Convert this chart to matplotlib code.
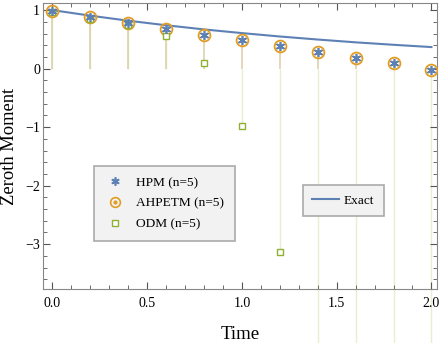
import matplotlib
matplotlib.use("Agg")
import matplotlib.pyplot as plt
from matplotlib.ticker import MultipleLocator, FuncFormatter
from matplotlib.lines import Line2D

plt.rcParams['font.family'] = ['Liberation Serif', 'DejaVu Serif']

# data
t_points = [0.0, 0.2, 0.4, 0.6, 0.8, 1.0, 1.2, 1.4, 1.6, 1.8, 2.0]
hpm = [0.99, 0.89, 0.78, 0.68, 0.58, 0.49, 0.38, 0.28, 0.18, 0.09, -0.03]
ahpetm = [0.99, 0.89, 0.78, 0.68, 0.58, 0.49, 0.38, 0.28, 0.18, 0.09, -0.03]
odm = [0.97, 0.85, 0.75, 0.55, 0.09, -0.98, -3.14, -6.5, -12.0, -20.0, -31.0]

t_exact = [0.0, 0.2, 0.4, 0.6, 0.8, 1.0, 1.2, 1.4, 1.6, 1.8, 2.0]
exact = [1.0, 0.905, 0.819, 0.741, 0.670, 0.607, 0.549, 0.497, 0.449, 0.407, 0.368]

blue = '#5E81B5'
orange = '#E19C24'
green = '#8FB032'
star = (6, 2, 0)

fig = plt.figure(figsize=(4.42, 3.43), dpi=100)
ax = fig.add_axes([0.097, 0.157, 0.892, 0.834])

# filling to axis (stems)
ax.vlines(t_points, 0, hpm, colors='#9a9a70', alpha=0.35, lw=1.1, zorder=1)
ax.vlines(t_points, 0, ahpetm, colors=orange, alpha=0.2, lw=1.1, zorder=1)
ax.vlines(t_points, 0, odm, colors='#d2da9a', alpha=0.45, lw=1.0, zorder=1,
          clip_on=False)

ax.plot(t_exact, exact, color=blue, lw=1.5, zorder=2)
ax.plot(t_points, ahpetm, ls='none', marker='o', ms=8.5, mfc='none',
        mec=orange, mew=1.3, zorder=3)
ax.plot(t_points, ahpetm, ls='none', marker='o', ms=2.2, color=orange, zorder=3)
ax.plot(t_points, hpm, ls='none', marker=star, ms=6.5, mec=blue, mew=1.2,
        zorder=4)
ax.plot(t_points, odm, ls='none', marker='s', ms=4.8, mfc='white', mec=green,
        mew=1.0, zorder=3)

ax.set_xlim(-0.05, 2.03)
ax.set_ylim(-3.77, 1.12)
ax.xaxis.set_major_locator(MultipleLocator(0.5))
ax.xaxis.set_minor_locator(MultipleLocator(0.1))
ax.yaxis.set_major_locator(MultipleLocator(1))
ax.yaxis.set_minor_locator(MultipleLocator(0.2))
ax.tick_params(which='both', direction='in', top=True, right=True,
               color='#555555', labelsize=10)
ax.tick_params(which='major', length=5)
ax.tick_params(which='minor', length=3)
ax.tick_params(axis='x', pad=6)
ax.tick_params(axis='y', pad=2)
ax.xaxis.set_major_formatter(FuncFormatter(lambda v, p: f"{v:.1f}"))
ax.yaxis.set_major_formatter(
    FuncFormatter(lambda v, p: f"{int(round(v))}".replace('-', '\u2212')))
for s in ax.spines.values():
    s.set_color('#888888')

ax.set_xlabel('Time', fontsize=13.5)
ax.xaxis.set_label_coords(0.5, -0.13)
ax.set_ylabel('Zeroth Moment', fontsize=13.3)
ax.yaxis.set_label_coords(-0.064, 0.5)

h1 = [
    Line2D([], [], ls='none', marker=star, ms=6, mec=blue, mew=1.2),
    (Line2D([], [], ls='none', marker='o', ms=7, mfc='none', mec=orange, mew=1.2),
     Line2D([], [], ls='none', marker='o', ms=2, color=orange)),
    Line2D([], [], ls='none', marker='s', ms=4, mfc='white', mec=green, mew=1.0),
]
leg1 = fig.legend(h1, ['HPM (n=5)', 'AHPETM (n=5)', 'ODM (n=5)'],
                  loc='upper left', bbox_to_anchor=(94 / 442, 1 - 166 / 343),
                  borderaxespad=0, fontsize=9.6, fancybox=False, framealpha=1,
                  facecolor='#f2f2f2', edgecolor='#aaaaaa', borderpad=0.8,
                  labelspacing=0.62, handlelength=1.6, handletextpad=0.75)
leg1.get_frame().set_linewidth(1.2)

leg2 = fig.legend([Line2D([], [], color=blue, lw=1.5)], ['Exact'],
                  loc='upper left', bbox_to_anchor=(303 / 442, 1 - 185 / 343),
                  borderaxespad=0, fontsize=9.6, fancybox=False, framealpha=1,
                  facecolor='#f2f2f2', edgecolor='#aaaaaa', borderpad=0.7,
                  handlelength=2.0, handletextpad=0.35)
leg2.get_frame().set_linewidth(1.2)

fig.savefig('out.png', dpi=100)
